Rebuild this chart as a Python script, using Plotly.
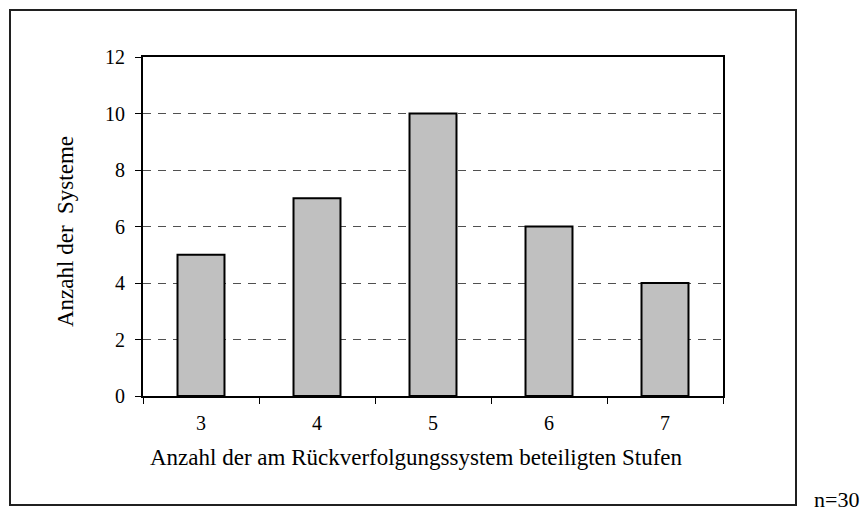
import plotly.graph_objects as go

categories = ["3", "4", "5", "6", "7"]
values = [5, 7, 10, 6, 4]
y_ticks = [0, 2, 4, 6, 8, 10, 12]
x_title = "Anzahl der am Rückverfolgungssystem beteiligten Stufen"
y_title = "Anzahl der  Systeme"
note = "n=30"

W, H = 864, 517
L, R, T, B = 143, 723, 57, 396
pw, ph = R - L, B - T

def px(x):
    return (x - L) / pw

def py(y):
    return (B - y) / ph

FONT = "Liberation Serif, Times New Roman, serif"

fig = go.Figure(go.Bar(
    x=categories, y=values, width=0.405,
    marker=dict(color="#C0C0C0", line=dict(color="black", width=2)),
))

fig.update_layout(
    width=W, height=H,
    margin=dict(l=L, r=W - R, t=T, b=H - B, pad=0),
    plot_bgcolor="white", paper_bgcolor="white",
    showlegend=False,
    font=dict(family=FONT, size=20, color="black"),
    xaxis=dict(
        type="category", showgrid=False, showline=True, linecolor="black", linewidth=2,
        mirror=True, ticks="outside", tickson="boundaries", ticklen=6, tickcolor="black",
        tickwidth=1, ticklabelstandoff=8, tickfont=dict(size=20),
    ),
    yaxis=dict(
        range=[0, 12], tickvals=y_ticks, showgrid=True, gridcolor="#505050",
        griddash="8px,7px", gridwidth=1, showline=True, linecolor="black", linewidth=2,
        mirror=True, ticks="outside", ticklen=6, tickcolor="black", tickwidth=1,
        ticklabelstandoff=6, zeroline=False, tickfont=dict(size=20),
    ),
    shapes=[dict(
        type="rect", xref="paper", yref="paper",
        x0=px(10), x1=px(796), y0=py(10), y1=py(505),
        line=dict(color="#202020", width=2), layer="below",
    )],
    annotations=[
        dict(text=x_title, xref="paper", yref="paper", x=px(416), y=py(458),
             xanchor="center", yanchor="middle", showarrow=False, font=dict(size=23)),
        dict(text=y_title, xref="paper", yref="paper", x=px(65), y=py(232),
             xanchor="center", yanchor="middle", textangle=-90, showarrow=False,
             font=dict(size=23)),
        dict(text=note, xref="paper", yref="paper", x=px(860), y=py(500),
             xanchor="right", yanchor="middle", showarrow=False, font=dict(size=22),
             borderpad=0),
    ],
)

fig.write_html(
    "out.html",
    config={"displayModeBar": False},
    post_script="document.body.style.margin='0';document.body.style.overflow='hidden';",
)
